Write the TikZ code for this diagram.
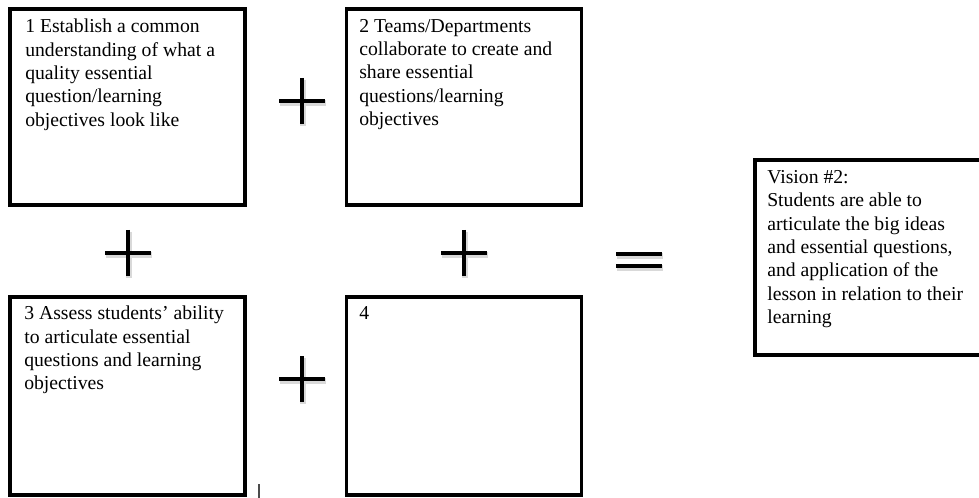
\documentclass[tikz,border=0pt]{standalone}
\usepackage{fontspec}
\setmainfont{Liberation Serif}
\usetikzlibrary{positioning}

\begin{document}
\begin{tikzpicture}[x=0.025cm, y=-0.025cm,
    frame/.style={rectangle, draw, line width=2.4pt, inner sep=0pt, minimum width=5.875cm, minimum height=4.9cm},
    steptext/.style={anchor=north west, inner sep=0pt, align=left, font=\fontsize{14}{16.6}\selectfont},
    sign/.style={line width=2.6pt},
    signshadow/.style={line width=3.6pt, black!15, shift={(1,2)}},
  ]
    \useasboundingbox (0,0) rectangle (979,498);

    % Step boxes
    \node[frame] (step1) at (127.5, 107) {};
    \node[frame] (step2) at (464, 107) {};
    \node[frame, minimum height=4.95cm] (step3) at (127.5, 396) {};
    \node[frame, minimum height=4.95cm] (step4) at (464, 396) {};
    \node[steptext] (text1) at (25, 19) {1 Establish a common\\understanding of what a\\quality essential\\question/learning\\objectives look like};
    \node[steptext] (text2) at (359, 19) {2 Teams/Departments\\collaborate to create and\\share essential\\questions/learning\\objectives};
    \node[steptext] (text3) at (24, 306) {3 Assess students' ability\\to articulate essential\\questions and learning\\objectives};
    \node[steptext] (text4) at (359, 306) {4};

    % Vision
    \node[frame, minimum height=4.875cm] (vision) at (872.5, 257.5) {};
    \node[steptext] (vtext) at (767, 170) {Vision \#2:\\Students are able to\\articulate the big ideas\\and essential questions,\\and application of the\\lesson in relation to their\\learning};

    % Plus signs
    \draw[signshadow] (279, 101) -- (325, 101);
    \draw[signshadow] (302, 78) -- (302, 124);
    \draw[sign] (279, 101) -- (325, 101);
    \draw[sign] (302, 78) -- (302, 124);
    \draw[signshadow] (105, 253) -- (151, 253);
    \draw[signshadow] (128, 230) -- (128, 276);
    \draw[sign] (105, 253) -- (151, 253);
    \draw[sign] (128, 230) -- (128, 276);
    \draw[signshadow] (441, 253) -- (487, 253);
    \draw[signshadow] (464, 230) -- (464, 276);
    \draw[sign] (441, 253) -- (487, 253);
    \draw[sign] (464, 230) -- (464, 276);
    \draw[signshadow] (279, 379) -- (325, 379);
    \draw[signshadow] (302, 356) -- (302, 402);
    \draw[sign] (279, 379) -- (325, 379);
    \draw[sign] (302, 356) -- (302, 402);

    % Equals sign
    \draw[signshadow] (616, 254) -- (662, 254);
    \draw[signshadow] (616, 266) -- (662, 266);
    \draw[sign] (616, 254) -- (662, 254);
    \draw[sign] (616, 266) -- (662, 266);

    % stray mark
    \draw[line width=0.8pt, black!70] (259, 484) -- (259, 498);

  \end{tikzpicture}
\end{document}
